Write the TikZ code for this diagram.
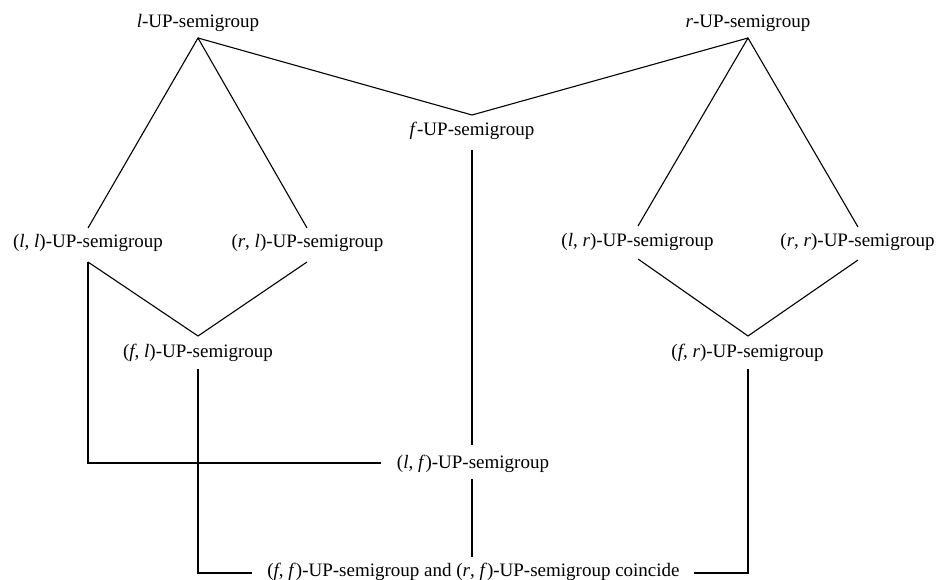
\documentclass[tikz,border=0pt]{standalone}
\usepackage{fontspec}
\setmainfont{Liberation Serif}
\newfontfamily\timesfont{Liberation Serif}
\begin{document}
\begin{tikzpicture}[x=1pt,y=-1pt,
  lbl/.style={anchor=base,inner sep=0pt,font=\timesfont\fontsize{19}{22}\selectfont},
  conn/.style={line width=1.1pt,line join=miter}]
\useasboundingbox (0,0) rectangle (938,580);
% labels
\node[lbl] (nl)  at (198,28)  {\textit{l}-UP-semigroup};
\node[lbl] (nr)  at (748,28)  {\textit{r}-UP-semigroup};
\node[lbl] (nf)  at (472,136) {\textit{f}-UP-semigroup};
\node[lbl] (nll) at (88,248)  {(\textit{l}, \textit{l})-UP-semigroup};
\node[lbl] (nrl) at (307.5,248) {(\textit{r}, \textit{l})-UP-semigroup};
\node[lbl] (nlr) at (637.5,247) {(\textit{l}, \textit{r})-UP-semigroup};
\node[lbl] (nrr) at (857.5,247) {(\textit{r}, \textit{r})-UP-semigroup};
\node[lbl] (nfl) at (198,357) {(\textit{f}, \textit{l})-UP-semigroup};
\node[lbl] (nfr) at (747.5,357) {(\textit{f}, \textit{r})-UP-semigroup};
\node[lbl] (nlf) at (473,468) {(\textit{l}, \textit{f})-UP-semigroup};
\node[lbl] (nff) at (473.5,576) {(\textit{f}, \textit{f})-UP-semigroup and (\textit{r}, \textit{f})-UP-semigroup coincide};
% connector end points
\coordinate (lA)  at (198,38);
\coordinate (rA)  at (748,38);
\coordinate (fA)  at (472,115);
\coordinate (fB)  at (472,150);
\coordinate (llT) at (88,228);
\coordinate (llB) at (88,262);
\coordinate (rlT) at (307,228);
\coordinate (rlB) at (307,262);
\coordinate (lrT) at (638,226);
\coordinate (lrB) at (638,259);
\coordinate (rrT) at (858,227);
\coordinate (rrB) at (858,260);
\coordinate (flA) at (198,336);
\coordinate (flB) at (198,369);
\coordinate (frA) at (748,336);
\coordinate (frB) at (748,369);
\coordinate (lfT) at (472,445);
\coordinate (lfB) at (472,479);
\coordinate (lfL) at (381,463);
\coordinate (ffT) at (472,557);
\coordinate (ffL) at (252,573);
\coordinate (ffR) at (694,573);
% connectors
\draw[conn] (llT) -- (lA) -- (rlT);
\draw[conn] (lA) -- (fA) -- (rA);
\draw[conn] (lrT) -- (rA) -- (rrT);
\draw[conn] (llB) -- (flA) -- (rlB);
\draw[conn] (lrB) -- (frA) -- (rrB);
\draw[conn] (fB) -- (lfT);
\draw[conn] (lfB) -- (ffT);
\draw[conn] (llB) |- (lfL);
\draw[conn] (flB) |- (ffL);
\draw[conn] (ffR) -| (frB);
\end{tikzpicture}
\end{document}
